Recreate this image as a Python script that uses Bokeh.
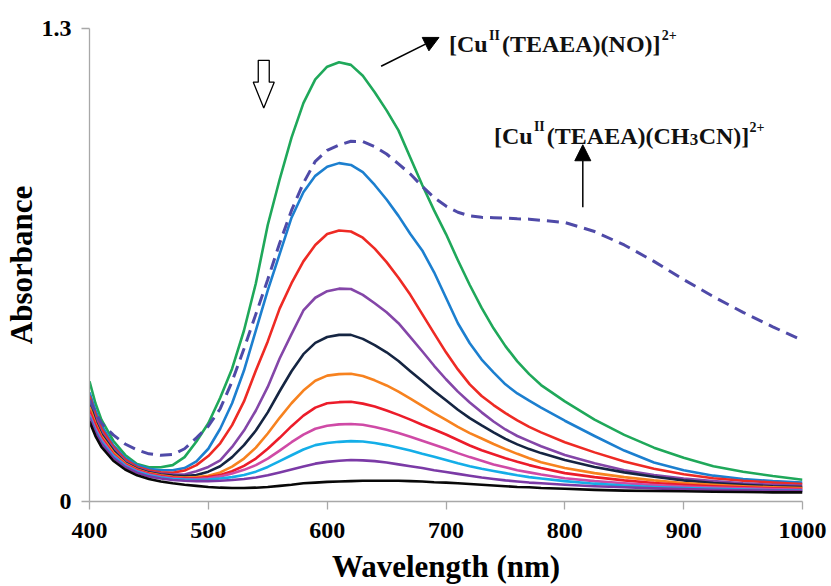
from bokeh.plotting import figure
from bokeh.models import Range1d, FixedTicker, Label, Arrow, NormalHead, PolyAnnotation
from bokeh.embed import file_html
from bokeh.resources import INLINE

# ---------------- data ----------------
wavelength = [400, 405, 410, 420, 430, 440, 450, 460, 470, 480,
              490, 500, 510, 520, 530, 540, 550, 560, 570, 580,
              590, 600, 610, 620, 630, 640, 650, 660, 670, 680,
              690, 700, 710, 720, 730, 740, 750, 760, 770, 780,
              800, 825, 850, 875, 900, 925, 950, 975, 1000]

abs_green = [0.33, 0.27, 0.225, 0.167, 0.128, 0.103, 0.094, 0.094, 0.10, 0.122,
             0.165, 0.215, 0.285, 0.365, 0.47, 0.60, 0.76, 0.885, 1.00, 1.095,
             1.16, 1.195, 1.207, 1.20, 1.17, 1.125, 1.075, 1.02, 0.945, 0.87,
             0.80, 0.735, 0.663, 0.595, 0.532, 0.476, 0.427, 0.385, 0.35, 0.32,
             0.275, 0.225, 0.183, 0.148, 0.12, 0.097, 0.082, 0.07, 0.06]
abs_blue = [0.30, 0.25, 0.21, 0.155, 0.12, 0.10, 0.09, 0.086, 0.086, 0.092,
            0.11, 0.145, 0.20, 0.27, 0.36, 0.47, 0.58, 0.68, 0.78, 0.85,
            0.895, 0.92, 0.93, 0.925, 0.905, 0.87, 0.83, 0.785, 0.735, 0.69,
            0.63, 0.56, 0.49, 0.435, 0.39, 0.355, 0.322, 0.297, 0.277, 0.258,
            0.222, 0.18, 0.14, 0.107, 0.086, 0.071, 0.062, 0.056, 0.052]
abs_red = [0.29, 0.24, 0.20, 0.15, 0.115, 0.095, 0.085, 0.08, 0.079, 0.085,
           0.10, 0.125, 0.16, 0.21, 0.275, 0.36, 0.44, 0.53, 0.60, 0.66,
           0.705, 0.735, 0.745, 0.742, 0.725, 0.695, 0.658, 0.615, 0.568, 0.515,
           0.462, 0.41, 0.363, 0.322, 0.29, 0.265, 0.243, 0.223, 0.205, 0.19,
           0.163, 0.135, 0.11, 0.09, 0.075, 0.064, 0.057, 0.052, 0.048]
abs_purple = [0.28, 0.23, 0.19, 0.145, 0.11, 0.092, 0.082, 0.077, 0.074, 0.074,
              0.083, 0.095, 0.113, 0.15, 0.195, 0.25, 0.315, 0.393, 0.46, 0.525,
              0.56, 0.578, 0.585, 0.584, 0.568, 0.545, 0.52, 0.49, 0.452, 0.413,
              0.373, 0.336, 0.302, 0.272, 0.245, 0.22, 0.198, 0.18, 0.166, 0.152,
              0.128, 0.105, 0.086, 0.073, 0.063, 0.056, 0.05, 0.046, 0.043]
abs_navy = [0.27, 0.22, 0.185, 0.14, 0.107, 0.09, 0.08, 0.074, 0.071, 0.07,
            0.073, 0.082, 0.097, 0.122, 0.155, 0.195, 0.245, 0.303, 0.358, 0.405,
            0.436, 0.452, 0.458, 0.458, 0.447, 0.43, 0.41, 0.386, 0.358, 0.331,
            0.304, 0.278, 0.252, 0.229, 0.209, 0.19, 0.172, 0.157, 0.144, 0.133,
            0.114, 0.095, 0.08, 0.068, 0.058, 0.051, 0.046, 0.042, 0.04]
abs_orange = [0.26, 0.215, 0.18, 0.135, 0.105, 0.088, 0.078, 0.072, 0.068, 0.066,
              0.067, 0.071, 0.08, 0.096, 0.118, 0.148, 0.187, 0.23, 0.27, 0.305,
              0.332, 0.346, 0.35, 0.351, 0.345, 0.333, 0.319, 0.302, 0.283, 0.263,
              0.243, 0.224, 0.205, 0.188, 0.173, 0.158, 0.144, 0.131, 0.119, 0.108,
              0.092, 0.078, 0.067, 0.058, 0.051, 0.046, 0.042, 0.039, 0.037]
abs_red2 = [0.25, 0.21, 0.175, 0.13, 0.102, 0.086, 0.076, 0.07, 0.066, 0.064,
            0.064, 0.067, 0.073, 0.083, 0.098, 0.118, 0.145, 0.175, 0.207, 0.236,
            0.258, 0.27, 0.273, 0.274, 0.269, 0.261, 0.25, 0.238, 0.225, 0.211,
            0.198, 0.184, 0.169, 0.154, 0.141, 0.13, 0.119, 0.109, 0.1, 0.092,
            0.078, 0.067, 0.058, 0.051, 0.046, 0.042, 0.039, 0.036, 0.034]
abs_pink = [0.24, 0.20, 0.17, 0.127, 0.10, 0.084, 0.074, 0.068, 0.064, 0.062,
            0.062, 0.064, 0.069, 0.077, 0.087, 0.10, 0.118, 0.14, 0.163, 0.184,
            0.2, 0.208, 0.212, 0.213, 0.211, 0.205, 0.197, 0.188, 0.178, 0.167,
            0.156, 0.145, 0.133, 0.122, 0.112, 0.102, 0.094, 0.086, 0.08, 0.074,
            0.064, 0.056, 0.05, 0.045, 0.041, 0.038, 0.036, 0.034, 0.032]
abs_cyan = [0.235, 0.195, 0.165, 0.125, 0.098, 0.082, 0.072, 0.066, 0.062, 0.06,
            0.059, 0.06, 0.063, 0.067, 0.073, 0.082, 0.095, 0.111, 0.127, 0.143,
            0.155, 0.161, 0.164, 0.166, 0.165, 0.161, 0.155, 0.148, 0.14, 0.131,
            0.123, 0.114, 0.105, 0.097, 0.09, 0.084, 0.078, 0.072, 0.067, 0.063,
            0.056, 0.049, 0.044, 0.04, 0.037, 0.035, 0.033, 0.031, 0.03]
abs_violet = [0.23, 0.19, 0.16, 0.12, 0.095, 0.079, 0.069, 0.063, 0.059, 0.057,
              0.056, 0.056, 0.057, 0.059, 0.062, 0.066, 0.072, 0.08, 0.088, 0.096,
              0.104, 0.109, 0.112, 0.114, 0.113, 0.111, 0.107, 0.102, 0.097, 0.092,
              0.086, 0.081, 0.076, 0.071, 0.066, 0.062, 0.058, 0.055, 0.052, 0.05,
              0.046, 0.042, 0.039, 0.036, 0.034, 0.032, 0.031, 0.03, 0.029]
abs_black = [0.22, 0.18, 0.15, 0.112, 0.088, 0.072, 0.062, 0.055, 0.05, 0.046,
             0.043, 0.04, 0.038, 0.037, 0.037, 0.038, 0.04, 0.043, 0.046, 0.05,
             0.052, 0.054, 0.055, 0.056, 0.057, 0.057, 0.057, 0.057, 0.056, 0.055,
             0.053, 0.052, 0.05, 0.048, 0.046, 0.044, 0.042, 0.04, 0.039, 0.037,
             0.035, 0.032, 0.03, 0.029, 0.028, 0.027, 0.026, 0.025, 0.025]
abs_ch3cn = [0.28, 0.245, 0.215, 0.183, 0.158, 0.142, 0.131, 0.127, 0.129, 0.145,
             0.175, 0.207, 0.255, 0.33, 0.42, 0.515, 0.61, 0.71, 0.80, 0.875,
             0.935, 0.965, 0.98, 0.99, 0.989, 0.975, 0.955, 0.928, 0.90, 0.866,
             0.835, 0.812, 0.795, 0.785, 0.781, 0.78, 0.779, 0.777, 0.776, 0.773,
             0.767, 0.742, 0.705, 0.66, 0.61, 0.563, 0.52, 0.48, 0.443]

x_ticks = [400, 500, 600, 700, 800, 900, 1000]
y_ticks = [0, 1.3]

solid_series = [
    (abs_green, "#1fa85a"),
    (abs_blue, "#1c7fcf"),
    (abs_red, "#ee2a24"),
    (abs_purple, "#8446a8"),
    (abs_navy, "#152542"),
    (abs_orange, "#f7821f"),
    (abs_red2, "#ec1c2a"),
    (abs_pink, "#cf4aa6"),
    (abs_cyan, "#14aee8"),
    (abs_violet, "#7b3aa6"),
    (abs_black, "#080808"),
]

# ---------------- figure ----------------
FONT = "Liberation Serif"
p = figure(width=831, height=586, output_backend="svg", toolbar_location=None,
           x_range=Range1d(400, 1000), y_range=Range1d(0, 1.3),
           min_border_left=88, min_border_right=29, min_border_top=28, min_border_bottom=82,
           background_fill_color="white", border_fill_color="white")
p.outline_line_color = None
p.xgrid.grid_line_color = None
p.ygrid.grid_line_color = None

for ys, col in solid_series:
    p.line(wavelength, ys, line_color=col, line_width=2.6, line_join="round")
p.line(wavelength, abs_ch3cn, line_color="#4f4aa8", line_width=3, line_dash="12 7")

for ax in (p.xaxis[0], p.yaxis[0]):
    ax.axis_line_color = "#a8a8a8"
    ax.axis_line_width = 1.3
    ax.major_tick_line_color = "#a8a8a8"
    ax.major_tick_line_width = 1.3
    ax.major_tick_in = 0
    ax.major_tick_out = 8
    ax.minor_tick_line_color = None
    ax.major_label_text_font = FONT
    ax.major_label_text_font_style = "bold"
    ax.major_label_text_font_size = "24px"
    ax.major_label_text_color = "black"
    ax.axis_label_text_font = FONT
    ax.axis_label_text_font_style = "bold"
    ax.axis_label_text_font_size = "31px"
    ax.axis_label_text_color = "black"

p.xaxis.ticker = FixedTicker(ticks=x_ticks)
p.yaxis.ticker = FixedTicker(ticks=y_ticks)
p.xaxis.axis_label = "Wavelength (nm)"
p.yaxis.axis_label = "Absorbance"
p.xaxis.major_label_standoff = 13
p.yaxis.major_label_standoff = 10
p.xaxis.axis_label_standoff = 8
p.yaxis.axis_label_standoff = 0

# ---------------- annotations (positions in page pixels -> data) ----------------
FX0, FX1, FY0, FY1 = 88.0, 802.0, 28.0, 504.0


def px2x(px):
    return 400 + (px - FX0) * 600.0 / (FX1 - FX0)


def px2y(py):
    return (FY1 - py) * 1.3 / (FY1 - FY0)


def piece(text, px, py, size):
    p.add_layout(Label(x=px2x(px), y=px2y(py), text=text, text_font=FONT,
                       text_font_style="bold", text_font_size=f"{size}px",
                       text_color="#111111", text_align="left",
                       text_baseline="alphabetic"))


# [Cu^II(TEAEA)(NO)]^2+
piece("[Cu", 448, 44, 24)
piece("II", 488, 35, 14)
piece("(TEAEA)(NO)]", 501, 44, 24)
piece("2+", 661, 35, 14)

# [Cu^II(TEAEA)(CH3CN)]^2+
piece("[Cu", 493, 136, 24)
piece("II", 533, 127, 14)
piece("(TEAEA)(CH", 546, 136, 24)
piece("3", 689, 140, 17)
piece("CN)]", 698, 136, 24)
piece("2+", 749, 127, 14)

p.add_layout(Arrow(x_start=px2x(380), y_start=px2y(66), x_end=px2x(438), y_end=px2y(37),
                   line_color="black", line_width=1.5,
                   end=NormalHead(size=15, fill_color="black", line_color="black")))
p.add_layout(Arrow(x_start=px2x(582), y_start=px2y(208), x_end=px2x(582), y_end=px2y(145),
                   line_color="black", line_width=1.5,
                   end=NormalHead(size=16, fill_color="black", line_color="black")))

hx = [257, 268, 268, 273, 262.5, 252, 257]
hy = [60, 60, 82, 82, 108, 82, 82]
p.add_layout(PolyAnnotation(xs=[px2x(v) for v in hx], ys=[px2y(v) for v in hy],
                            fill_color="white", fill_alpha=1.0,
                            line_color="black", line_alpha=1.0, line_width=1.3))

open("out.html", "w").write(file_html(p, INLINE))
